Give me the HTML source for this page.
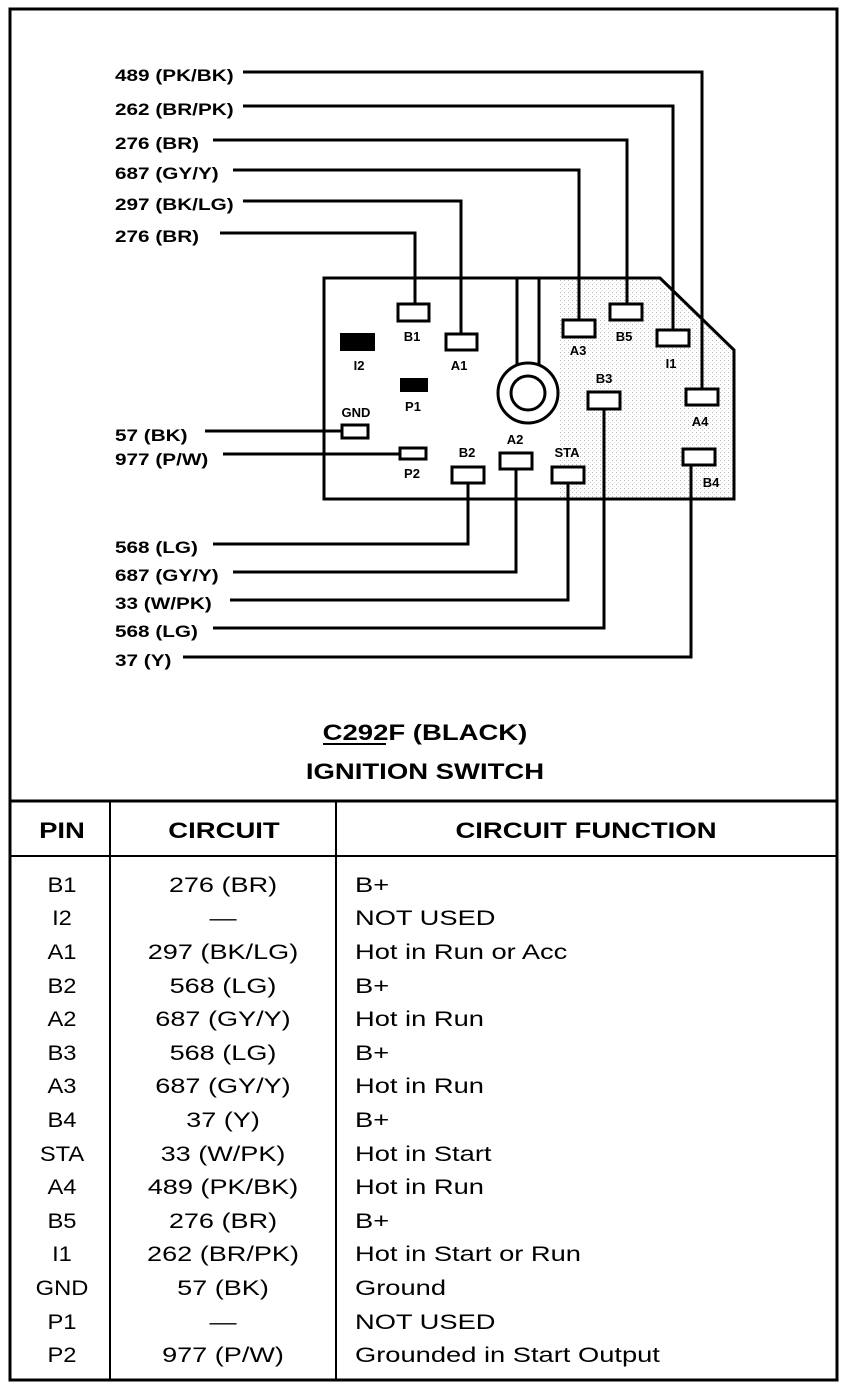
<!DOCTYPE html>
<html><head><meta charset="utf-8"><style>
html,body{margin:0;padding:0;background:#fff;}
svg{display:block;}
text{font-family:"Liberation Sans",Arial,sans-serif;fill:#000;}
.l{font-size:17px;font-weight:bold;}
.t{font-size:21px;}
.h{font-size:22px;font-weight:bold;}
</style></head><body>
<svg width="864" height="1388" viewBox="0 0 864 1388" xmlns="http://www.w3.org/2000/svg">
<defs>
<pattern id="dots" width="4" height="4" patternUnits="userSpaceOnUse">
<rect x="0" y="0" width="1" height="1" fill="#888"/><rect x="2" y="2" width="1" height="1" fill="#bbb"/>
</pattern>
</defs>
<rect x="10" y="9" width="827" height="1371" fill="none" stroke="#000" stroke-width="3"/>
<polygon points="560,278 660,278 734,350 734,499 560,499" fill="url(#dots)" opacity="0.6"/>
<polygon points="324,278 660,278 734,350 734,499 324,499" fill="none" stroke="#000" stroke-width="3"/>
<g fill="none" stroke="#000" stroke-width="3">
<polyline points="243,72 702,72 702,388"/>
<polyline points="243,106 673,106 673,330"/>
<polyline points="213,140 627,140 627,303"/>
<polyline points="233,170 579,170 579,320"/>
<polyline points="243,201 461,201 461,333"/>
<polyline points="220,233 415,233 415,303"/>
<polyline points="205,431 341,431"/>
<polyline points="223,454 399,454"/>
<polyline points="468,483 468,544 213,544"/>
<polyline points="516,469 516,572 233,572"/>
<polyline points="568,483 568,600 230,600"/>
<polyline points="604,409 604,628 213,628"/>
<polyline points="691,465 691,657 183,657"/>
<line x1="517" y1="278" x2="517" y2="368"/>
<line x1="539" y1="278" x2="539" y2="368"/>
</g>
<circle cx="528" cy="393" r="30" fill="#fff" stroke="#000" stroke-width="3"/>
<circle cx="528" cy="393" r="17" fill="none" stroke="#000" stroke-width="3"/>
<g fill="#fff" stroke="#000" stroke-width="3">
<rect x="398" y="304" width="31" height="17"/>
<rect x="446" y="334" width="31" height="16"/>
<rect x="563" y="320" width="32" height="17"/>
<rect x="610" y="304" width="32" height="16"/>
<rect x="657" y="330" width="32" height="16"/>
<rect x="686" y="389" width="32" height="16"/>
<rect x="588" y="392" width="32" height="17"/>
<rect x="683" y="449" width="32" height="16"/>
<rect x="552" y="467" width="32" height="16"/>
<rect x="500" y="453" width="32" height="16"/>
<rect x="452" y="467" width="32" height="16"/>
<rect x="342" y="425" width="26" height="13"/>
<rect x="400" y="448" width="26" height="11"/>
</g>
<rect x="340" y="333" width="35" height="18" fill="#000"/>
<rect x="400" y="378" width="28" height="14" fill="#000"/>
<g font-size="13" font-weight="bold" text-anchor="middle">
<text x="412" y="341">B1</text><text x="359" y="370">I2</text><text x="459" y="370">A1</text>
<text x="413" y="411">P1</text><text x="356" y="417">GND</text><text x="412" y="478">P2</text>
<text x="467" y="457">B2</text><text x="515" y="444">A2</text><text x="567" y="457">STA</text>
<text x="578" y="355">A3</text><text x="624" y="341">B5</text><text x="671" y="368">I1</text>
<text x="604" y="383">B3</text><text x="700" y="426">A4</text><text x="711" y="487">B4</text>
</g>
<g class="l" transform="translate(115,0) scale(1.22,1) translate(-115,0)">
<text x="115" y="81">489 (PK/BK)</text>
<text x="115" y="115">262 (BR/PK)</text>
<text x="115" y="149">276 (BR)</text>
<text x="115" y="179">687 (GY/Y)</text>
<text x="115" y="210">297 (BK/LG)</text>
<text x="115" y="242">276 (BR)</text>
<text x="115" y="441">57 (BK)</text>
<text x="115" y="465">977 (P/W)</text>
<text x="115" y="553">568 (LG)</text>
<text x="115" y="581">687 (GY/Y)</text>
<text x="115" y="609">33 (W/PK)</text>
<text x="115" y="637">568 (LG)</text>
<text x="115" y="666">37 (Y)</text>
</g>
<g class="h" text-anchor="middle" transform="translate(425,0) scale(1.25,1) translate(-425,0)">
<text x="425" y="740">C292F (BLACK)</text>
<text x="425" y="779">IGNITION SWITCH</text>
</g>
<line x1="323" y1="744" x2="386" y2="744" stroke="#000" stroke-width="2"/>
<g stroke="#000" fill="none">
<line x1="10" y1="801" x2="837" y2="801" stroke-width="3"/>
<line x1="10" y1="856" x2="837" y2="856" stroke-width="2"/>
<line x1="110" y1="801" x2="110" y2="1380" stroke-width="2"/>
<line x1="336" y1="801" x2="336" y2="1380" stroke-width="2"/>
</g>
<g class="h" text-anchor="middle">
<text x="62" y="838" transform="translate(62,0) scale(1.25,1) translate(-62,0)">PIN</text>
<text x="224" y="838" transform="translate(224,0) scale(1.25,1) translate(-224,0)">CIRCUIT</text>
<text x="586" y="838" transform="translate(586,0) scale(1.25,1) translate(-586,0)">CIRCUIT FUNCTION</text>
</g>
<g class="t">
<g text-anchor="middle" transform="translate(62,0) scale(1.13,1) translate(-62,0)">
<text x="62" y="892">B1</text><text x="62" y="925">I2</text><text x="62" y="959">A1</text>
<text x="62" y="993">B2</text><text x="62" y="1026">A2</text><text x="62" y="1060">B3</text>
<text x="62" y="1093">A3</text><text x="62" y="1127">B4</text><text x="62" y="1161">STA</text>
<text x="62" y="1194">A4</text><text x="62" y="1228">B5</text><text x="62" y="1261">I1</text>
<text x="62" y="1295">GND</text><text x="62" y="1329">P1</text><text x="62" y="1362">P2</text>
</g>
<g text-anchor="middle" transform="translate(223,0) scale(1.29,1) translate(-223,0)">
<text x="223" y="892">276 (BR)</text>
<text x="223" y="925">—</text>
<text x="223" y="959">297 (BK/LG)</text>
<text x="223" y="993">568 (LG)</text>
<text x="223" y="1026">687 (GY/Y)</text>
<text x="223" y="1060">568 (LG)</text>
<text x="223" y="1093">687 (GY/Y)</text>
<text x="223" y="1127">37 (Y)</text>
<text x="223" y="1161">33 (W/PK)</text>
<text x="223" y="1194">489 (PK/BK)</text>
<text x="223" y="1228">276 (BR)</text>
<text x="223" y="1261">262 (BR/PK)</text>
<text x="223" y="1295">57 (BK)</text>
<text x="223" y="1329">—</text>
<text x="223" y="1362">977 (P/W)</text>
</g>
<g transform="translate(355,0) scale(1.3,1) translate(-355,0)">
<text x="355" y="892">B+</text>
<text x="355" y="925">NOT USED</text>
<text x="355" y="959">Hot in Run or Acc</text>
<text x="355" y="993">B+</text>
<text x="355" y="1026">Hot in Run</text>
<text x="355" y="1060">B+</text>
<text x="355" y="1093">Hot in Run</text>
<text x="355" y="1127">B+</text>
<text x="355" y="1161">Hot in Start</text>
<text x="355" y="1194">Hot in Run</text>
<text x="355" y="1228">B+</text>
<text x="355" y="1261">Hot in Start or Run</text>
<text x="355" y="1295">Ground</text>
<text x="355" y="1329">NOT USED</text>
<text x="355" y="1362">Grounded in Start Output</text>
</g>
</g>
</svg>
</body></html>
